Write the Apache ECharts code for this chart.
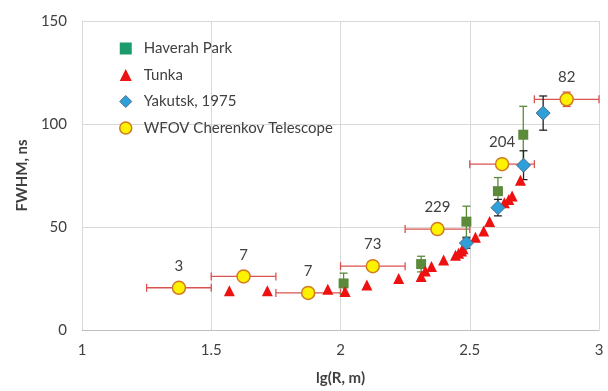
<!DOCTYPE html>
<html>
<head>
<meta charset="utf-8">
<script src="https://cdn.jsdelivr.net/npm/echarts@6/dist/echarts.min.js"></script>
<style>
  html, body { margin: 0; padding: 0; background: #fff; }
  #chart { width: 608px; height: 391px; }
</style>
</head>
<body>
<div id="chart"></div>
<script>
// Haverah Park: lg(R) positions, FWHM and symmetric errors
const haverahX = [2.012, 2.312, 2.487, 2.609, 2.707];
const haverahY = [22.6, 32.0, 52.6, 67.4, 94.8];
const haverahErr = [5.0, 3.8, 7.5, 6.6, 13.8];

// Tunka measurements
const tunkaX = [1.570, 1.717, 1.951, 2.018, 2.102, 2.225, 2.312, 2.328, 2.352, 2.399, 2.445, 2.457, 2.468, 2.474, 2.522, 2.554, 2.577, 2.634, 2.651, 2.664, 2.696];
const tunkaY = [19.0, 19.0, 19.8, 18.7, 21.9, 25.0, 26.0, 28.7, 30.8, 34.0, 36.3, 37.3, 38.4, 39.5, 45.0, 48.0, 52.7, 61.8, 63.4, 65.0, 72.7];

// Yakutsk, 1975
const yakutskX = [2.487, 2.609, 2.708, 2.784];
const yakutskY = [42.2, 59.4, 80.0, 105.3];
const yakutskErr = [2.5, 4.0, 7.0, 8.3];

// WFOV Cherenkov Telescope: bin centres, half widths, FWHM, event counts
const wfovX = [1.375, 1.625, 1.875, 2.125, 2.375, 2.625, 2.875];
const wfovXErr = [0.125, 0.125, 0.125, 0.125, 0.125, 0.125, 0.125];
const wfovY = [20.5, 26.0, 18.0, 31.0, 49.0, 80.5, 112.0];
const wfovYErr = [0, 0, 0, 0, 0, 0, 3.5];
const wfovCounts = ['3', '7', '7', '73', '229', '204', '82'];

// Axis ticks
const xTicks = [1, 1.5, 2, 2.5, 3];
const yTicks = [0, 50, 100, 150];

const FONT = 'Lato';
const TEXT = '#404040';

function zip(xs, ys) { return xs.map((x, i) => [x, ys[i]]); }

// vertical error bar: [x, yLow, yHigh]
function vBarItem(color) {
  return function (params, api) {
    const x = api.value(0);
    const lo = api.coord([x, api.value(1)]);
    const hi = api.coord([x, api.value(2)]);
    const cap = 4;
    const style = { stroke: color, lineWidth: 1.3 };
    return {
      type: 'group',
      children: [
        { type: 'line', shape: { x1: lo[0], y1: lo[1], x2: hi[0], y2: hi[1] }, style },
        { type: 'line', shape: { x1: lo[0] - cap, y1: lo[1], x2: lo[0] + cap, y2: lo[1] }, style },
        { type: 'line', shape: { x1: hi[0] - cap, y1: hi[1], x2: hi[0] + cap, y2: hi[1] }, style }
      ]
    };
  };
}

// horizontal error bar: [xLow, xHigh, y]
function hBarItem(color) {
  return function (params, api) {
    const y = api.value(2);
    const lo = api.coord([api.value(0), y]);
    const hi = api.coord([api.value(1), y]);
    const cap = 4;
    const style = { stroke: color, lineWidth: 1.3 };
    return {
      type: 'group',
      children: [
        { type: 'line', shape: { x1: lo[0], y1: lo[1], x2: hi[0], y2: hi[1] }, style },
        { type: 'line', shape: { x1: lo[0], y1: lo[1] - cap, x2: lo[0], y2: lo[1] + cap }, style },
        { type: 'line', shape: { x1: hi[0], y1: hi[1] - cap, x2: hi[0], y2: hi[1] + cap }, style }
      ]
    };
  };
}

const haverahBars = haverahX.map((x, i) => [x, haverahY[i] - haverahErr[i], haverahY[i] + haverahErr[i]]);
const yakutskBars = yakutskX.map((x, i) => [x, yakutskY[i] - yakutskErr[i], yakutskY[i] + yakutskErr[i]]);
const wfovHBars = wfovX.map((x, i) => [x - wfovXErr[i], x + wfovXErr[i], wfovY[i]]);
const wfovVBars = wfovX.map((x, i) => [x, wfovY[i] - wfovYErr[i], wfovY[i] + wfovYErr[i]]).filter((d, i) => wfovYErr[i] > 0);

const RED_BAR = '#d9534f';
const GREEN = '#5a8a3a';

const chart = echarts.init(document.getElementById('chart'), null, { renderer: 'canvas' });

chart.setOption({
  animation: false,
  backgroundColor: '#fff',
  textStyle: { fontFamily: FONT },
  grid: { left: 82, right: 9, top: 21, bottom: 60, containLabel: false },
  legend: {
    orient: 'vertical',
    left: 114,
    top: 36,
    itemWidth: 12,
    itemHeight: 12,
    itemGap: 11.5,
    textStyle: { fontFamily: FONT, fontSize: 15, color: TEXT, padding: [0, 0, 0, 7] },
    data: [
      { name: 'Haverah Park', icon: 'rect', itemStyle: { color: '#1c9c6c', borderWidth: 0 } },
      { name: 'Tunka', icon: 'triangle', itemStyle: { color: '#ee1111' } },
      { name: 'Yakutsk, 1975', icon: 'diamond', itemStyle: { color: '#2e9fd8', borderColor: '#4a6e88', borderWidth: 1 } },
      { name: 'WFOV Cherenkov Telescope', icon: 'circle', itemStyle: { color: '#fff200', borderColor: '#d07a20', borderWidth: 1.5 } }
    ]
  },
  xAxis: {
    type: 'value',
    min: xTicks[0],
    max: xTicks[xTicks.length - 1],
    interval: 0.5,
    name: 'lg(R, m)',
    nameLocation: 'middle',
    nameGap: 41,
    nameTextStyle: { fontFamily: FONT, fontSize: 15, fontWeight: 'bold', color: TEXT },
    axisLine: { show: true, lineStyle: { color: '#bfbfbf', width: 1 } },
    axisTick: { show: false },
    axisLabel: { fontFamily: FONT, fontSize: 15, color: TEXT, margin: 13 },
    splitLine: { show: true, lineStyle: { color: '#d9d9d9', width: 1 } }
  },
  yAxis: {
    type: 'value',
    min: yTicks[0],
    max: yTicks[yTicks.length - 1],
    interval: 50,
    name: 'FWHM, ns',
    nameLocation: 'middle',
    nameGap: 52,
    nameRotate: 90,
    nameTextStyle: { fontFamily: FONT, fontSize: 15, fontWeight: 'bold', color: TEXT },
    axisLine: { show: true, lineStyle: { color: '#d9d9d9', width: 1 } },
    axisTick: { show: false },
    axisLabel: { fontFamily: FONT, fontSize: 15, color: TEXT, margin: 15 },
    splitLine: { show: true, lineStyle: { color: '#d9d9d9', width: 1 } }
  },
  series: [
    {
      name: 'wfov-hbars', type: 'custom', renderItem: hBarItem(RED_BAR),
      data: wfovHBars, encode: { x: [0, 1], y: 2 }, z: 2, silent: true
    },
    {
      name: 'wfov-vbars', type: 'custom', renderItem: vBarItem(RED_BAR),
      data: wfovVBars, encode: { x: 0, y: [1, 2] }, z: 2, silent: true
    },
    {
      name: 'haverah-bars', type: 'custom', renderItem: vBarItem(GREEN),
      data: haverahBars, encode: { x: 0, y: [1, 2] }, z: 2, silent: true
    },
    {
      name: 'yakutsk-bars', type: 'custom', renderItem: vBarItem('#222'),
      data: yakutskBars, encode: { x: 0, y: [1, 2] }, z: 3, silent: true
    },
    {
      name: 'Haverah Park', type: 'scatter', symbol: 'rect', symbolSize: 10,
      itemStyle: { color: GREEN, opacity: 1 },
      data: zip(haverahX, haverahY), z: 4
    },
    {
      name: 'Tunka', type: 'scatter', symbol: 'triangle', symbolSize: 11,
      itemStyle: { color: '#ee1111', opacity: 1 },
      data: zip(tunkaX, tunkaY), z: 4
    },
    {
      name: 'Yakutsk, 1975', type: 'scatter', symbol: 'diamond', symbolSize: 14,
      itemStyle: { color: '#2e9fd8', borderColor: '#4a6e88', borderWidth: 1, opacity: 1 },
      data: zip(yakutskX, yakutskY), z: 5
    },
    {
      name: 'WFOV Cherenkov Telescope', type: 'scatter', symbol: 'circle', symbolSize: 13,
      itemStyle: { color: '#fff200', borderColor: '#d07a20', borderWidth: 1.5, opacity: 1 },
      data: wfovX.map((x, i) => ({ value: [x, wfovY[i]], label: { formatter: wfovCounts[i] } })),
      label: {
        show: true, position: 'top', distance: 7,
        fontFamily: FONT, fontSize: 15, color: TEXT
      },
      z: 6
    }
  ]
});
</script>
</body>
</html>
